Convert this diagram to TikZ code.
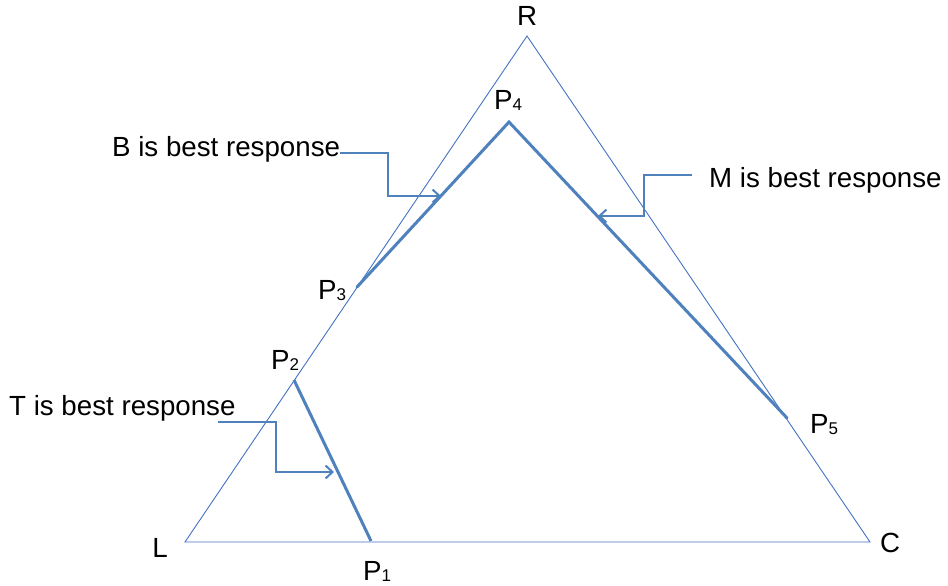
\documentclass[tikz,border=0pt]{standalone}
\usepackage{fontspec}
\setmainfont{Liberation Sans}
\usetikzlibrary{arrows.meta}
\definecolor{lb}{RGB}{68,114,196}
\definecolor{cb}{RGB}{79,129,189}
\newcommand{\pl}[1]{P\raisebox{-1pt}{\fontsize{17}{17}\selectfont #1}}
\tikzset{
  thin tri/.style={draw=lb, line width=0.9pt},
  thick seg/.style={draw=cb, line width=3pt},
  callout/.style={draw=cb, line width=2.6pt, -{Straight Barb[length=7pt,width=13pt,line width=2pt]}},
  lbl/.style={font=\fontsize{27.7}{30}\selectfont, inner sep=0pt},
}
\begin{document}
\begin{tikzpicture}[x=1pt,y=-1pt]
\useasboundingbox (0,0) rectangle (948,586);
% vertices
\coordinate (L) at (185,542);
\coordinate (C) at (870,542);
\coordinate (R) at (527,36);
\coordinate (P1) at (371,541);
\coordinate (P2) at (294,380);
\coordinate (P3) at (357,287);
\coordinate (P4) at (509,122);
\coordinate (P5) at (787,418);
\draw[thin tri] (L) -- (C) -- (R) -- cycle;
\draw[thick seg] (P1) -- (P2);
\draw[thick seg, line cap=round] (P3) -- (P4) -- (P5);
% labels
\node[lbl] (lR) at (527,16) {R};
\node[lbl] (lL) at (160,548) {L};
\node[lbl] (lC) at (890,543) {C};
\node[lbl, anchor=base west] (lP1) at (363,580) {\pl{1}};
\node[lbl, anchor=base west] (lP2) at (271,369) {\pl{2}};
\node[lbl, anchor=base west] (lP3) at (318,299) {\pl{3}};
\node[lbl, anchor=base west] (lP4) at (494,110) {\pl{4}};
\node[lbl, anchor=base west] (lP5) at (810,433) {\pl{5}};
% callouts
\node[lbl, anchor=base west] (tB) at (112,156) {B is best response};
\node[lbl, anchor=base west] (tM) at (709,187) {M is best response};
\node[lbl, anchor=base west] (tT) at (9,415) {T is best response};
\coordinate (bA) at (340,153);
\coordinate (bE) at (441,196);
\draw[callout] (bA) -| (388,196) -- (bE);
\coordinate (mA) at (692,175);
\coordinate (mE) at (598,216);
\draw[callout] (mA) -| (644,216) -- (mE);
\coordinate (tA) at (218,422);
\coordinate (tE) at (334,472);
\draw[callout] (tA) -| (276,472) -- (tE);
\end{tikzpicture}
\end{document}
